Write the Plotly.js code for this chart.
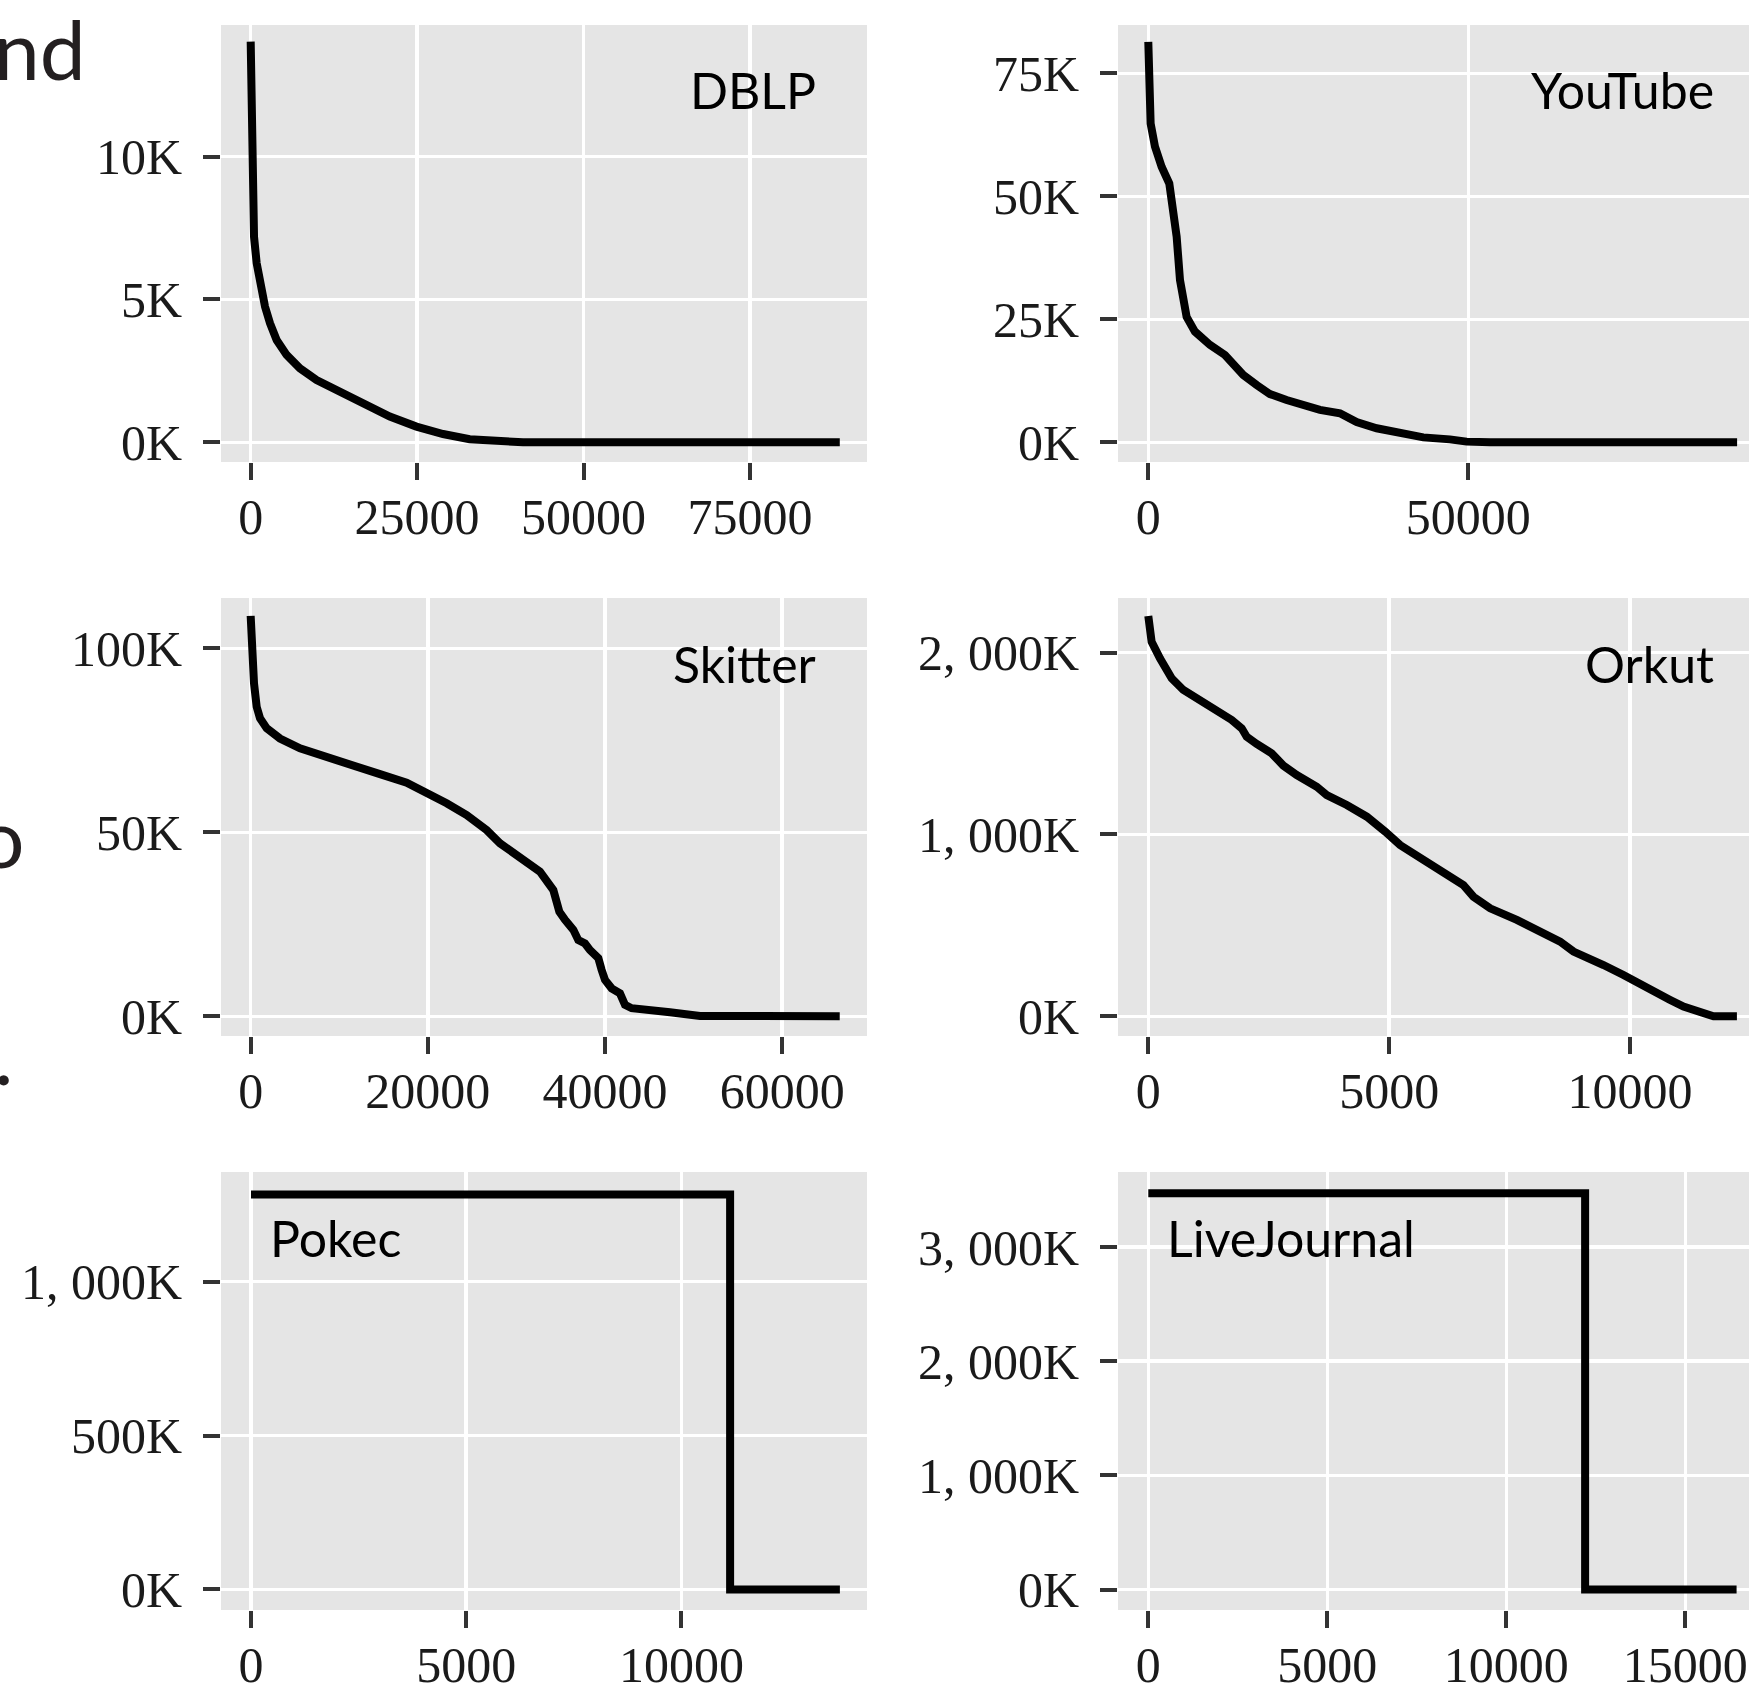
<!DOCTYPE html>
<html>
<head>
<meta charset="utf-8">
<script src="https://cdn.plot.ly/plotly-3.0.1.min.js"></script>
<style>
  html, body { margin: 0; padding: 0; background: #ffffff; }
  #chart { width: 1749px; height: 1687px; }
</style>
</head>
<body>
<div id="chart"></div>
<script>
// ---------- data ----------
const panelNames = ["DBLP", "YouTube", "Skitter", "Orkut", "Pokec", "LiveJournal"];

const dblpX = [0, 150, 300, 500, 900, 1400, 2150, 2900, 3900, 5400, 7400, 9900, 13400, 17400, 20900, 24900, 28900, 32900, 36900, 40900, 60000, 88500];
const dblpY = [14030, 9770, 8370, 7200, 6270, 5570, 4750, 4170, 3580, 3060, 2590, 2180, 1770, 1310, 900, 550, 290, 105, 25, 0, 0, 0];

const youtubeX = [0, 156, 365, 1040, 2080, 3280, 3900, 4430, 4950, 5360, 5990, 7290, 9635, 11980, 12760, 14840, 16930, 19010, 21610, 24220, 26820, 29950, 30990, 32550, 35680, 38800, 42970, 47130, 49740, 53400, 92000];
const youtubeY = [81400, 68200, 64800, 60100, 56000, 52600, 47900, 41800, 33000, 29600, 25500, 22500, 19800, 17750, 16700, 13700, 11650, 9800, 8600, 7400, 6600, 5900, 5200, 4100, 2850, 1960, 1000, 600, 140, 0, 0];

const skitterX = [0, 113, 376, 677, 1054, 1806, 3311, 5569, 8203, 11214, 14600, 17611, 19870, 22127, 24384, 26640, 28150, 29650, 31160, 32660, 34170, 34850, 35490, 36430, 36990, 37740, 38310, 39250, 39620, 40000, 40750, 41690, 42260, 43010, 47340, 50730, 66500];
const skitterY = [108800, 95900, 90500, 84100, 81000, 78300, 75500, 72800, 70600, 68300, 65800, 63500, 60800, 57900, 54700, 50600, 47000, 44300, 42000, 39300, 34300, 28400, 26200, 23500, 20700, 19800, 18000, 15800, 12600, 9900, 7600, 6250, 3100, 2200, 1100, 100, 0];

const orkutX = [0, 69, 242, 485, 727, 1004, 1281, 1489, 1731, 1939, 2043, 2251, 2562, 2804, 3082, 3497, 3705, 4120, 4536, 4917, 5228, 5713, 6059, 6127, 6542, 6750, 7097, 7651, 8135, 8550, 8827, 9173, 9450, 9865, 10280, 10835, 11111, 11526, 11734, 12220];
const orkutY = [2202000, 2060000, 1969000, 1859000, 1795000, 1749000, 1707000, 1666000, 1630000, 1584000, 1538000, 1498000, 1446000, 1379000, 1327000, 1263000, 1217000, 1162000, 1098000, 1016000, 942000, 860000, 805000, 786000, 722000, 658000, 594000, 530000, 466000, 411000, 356000, 319000, 282000, 227000, 163000, 90000, 53000, 20000, 0, 0];

const pokecX = [0, 11130, 11130, 13680];
const pokecY = [1283000, 1283000, 0, 0];

const liveJournalX = [0, 12200, 12200, 16430];
const liveJournalY = [3472000, 3472000, 0, 0];

// tick values and labels
const dblpXTicks = [0, 25000, 50000, 75000];
const dblpXLabels = ["0", "25000", "50000", "75000"];
const dblpYTicks = [0, 5000, 10000];
const dblpYLabels = ["0K", "5K", "10K"];

const youtubeXTicks = [0, 50000];
const youtubeXLabels = ["0", "50000"];
const youtubeYTicks = [0, 25000, 50000, 75000];
const youtubeYLabels = ["0K", "25K", "50K", "75K"];

const skitterXTicks = [0, 20000, 40000, 60000];
const skitterXLabels = ["0", "20000", "40000", "60000"];
const skitterYTicks = [0, 50000, 100000];
const skitterYLabels = ["0K", "50K", "100K"];

const orkutXTicks = [0, 5000, 10000];
const orkutXLabels = ["0", "5000", "10000"];
const orkutYTicks = [0, 1000000, 2000000];
const orkutYLabels = ["0K", "1, 000K", "2, 000K"];

const pokecXTicks = [0, 5000, 10000];
const pokecXLabels = ["0", "5000", "10000"];
const pokecYTicks = [0, 500000, 1000000];
const pokecYLabels = ["0K", "500K", "1, 000K"];

const liveJournalXTicks = [0, 5000, 10000, 15000];
const liveJournalXLabels = ["0", "5000", "10000", "15000"];
const liveJournalYTicks = [0, 1000000, 2000000, 3000000];
const liveJournalYLabels = ["0K", "1, 000K", "2, 000K", "3, 000K"];

// ---------- layout helpers ----------
const W = 1749, H = 1687;
const dx = (a, b) => [a / W, b / W];
const dy = (top, bottom) => [1 - bottom / H, 1 - top / H];
const px = v => v / W;
const py = v => 1 - v / H;

const colL = dx(221, 867), colR = dx(1118, 1749);
const row1 = dy(25, 462), row2 = dy(598, 1036), row3 = dy(1172, 1610);

const tickFont = { family: "Liberation Serif, Times New Roman, serif", size: 50, color: "#1a1a1a" };
const labelFont = { family: "Lato, Open Sans, sans-serif", size: 50, color: "#000000" };

function axis(domain, anchor, range, vals, texts, isY) {
  return {
    domain: domain, anchor: anchor, range: range,
    tickmode: "array", tickvals: vals, ticktext: texts,
    showgrid: true, gridcolor: "#FFFFFF", gridwidth: 3.5,
    zeroline: false, showline: false,
    ticks: "outside", ticklen: 17, tickwidth: 4, tickcolor: "#333333",
    tickfont: tickFont, ticklabelstandoff: isY ? 11 : -6,
    automargin: false, fixedrange: true
  };
}

const line = { color: "#000000", width: 8 };
const series = [
  [dblpX, dblpY], [youtubeX, youtubeY], [skitterX, skitterY],
  [orkutX, orkutY], [pokecX, pokecY], [liveJournalX, liveJournalY]
];
const traces = series.map((s, i) => ({
  type: "scatter", mode: "lines", x: s[0], y: s[1],
  xaxis: i === 0 ? "x" : "x" + (i + 1),
  yaxis: i === 0 ? "y" : "y" + (i + 1),
  line: line, hoverinfo: "skip", showlegend: false
}));

const layout = {
  width: W, height: H,
  margin: { l: 0, r: 0, t: 0, b: 0, pad: 0 },
  paper_bgcolor: "#FFFFFF", plot_bgcolor: "#E5E5E5",
  showlegend: false,
  xaxis:  axis(colL, "y",  [-4460, 92590], dblpXTicks, dblpXLabels, false),
  yaxis:  axis(row1, "x",  [-690, 14610], dblpYTicks, dblpYLabels, true),
  xaxis2: axis(colR, "y2", [-4734, 93860], youtubeXTicks, youtubeXLabels, false),
  yaxis2: axis(row1, "x2", [-4000, 84810], youtubeYTicks, youtubeYLabels, true),
  xaxis3: axis(colL, "y3", [-3350, 69580], skitterXTicks, skitterXLabels, false),
  yaxis3: axis(row2, "x3", [-5350, 113670], skitterYTicks, skitterYLabels, true),
  xaxis4: axis(colR, "y4", [-629, 12471], orkutXTicks, orkutXLabels, false),
  yaxis4: axis(row2, "x4", [-108400, 2300800], orkutYTicks, orkutYLabels, true),
  xaxis5: axis(colL, "y5", [-697, 14310], pokecXTicks, pokecXLabels, false),
  yaxis5: axis(row3, "x5", [-66600, 1356000], pokecYTicks, pokecYLabels, true),
  xaxis6: axis(colR, "y6", [-846, 16777], liveJournalXTicks, liveJournalXLabels, false),
  yaxis6: axis(row3, "x6", [-179600, 3658000], liveJournalYTicks, liveJournalYLabels, true),
  annotations: [
    { text: panelNames[0], xref: "paper", yref: "paper", x: px(818), y: py(90), xanchor: "right", yanchor: "middle", showarrow: false, font: labelFont },
    { text: panelNames[1], xref: "paper", yref: "paper", x: px(1716), y: py(90), xanchor: "right", yanchor: "middle", showarrow: false, font: labelFont },
    { text: panelNames[2], xref: "paper", yref: "paper", x: px(818), y: py(664), xanchor: "right", yanchor: "middle", showarrow: false, font: labelFont },
    { text: panelNames[3], xref: "paper", yref: "paper", x: px(1716), y: py(664), xanchor: "right", yanchor: "middle", showarrow: false, font: labelFont },
    { text: panelNames[4], xref: "paper", yref: "paper", x: px(268), y: py(1238), xanchor: "left", yanchor: "middle", showarrow: false, font: labelFont },
    { text: panelNames[5], xref: "paper", yref: "paper", x: px(1165), y: py(1238), xanchor: "left", yanchor: "middle", showarrow: false, font: labelFont },
    // fragments of surrounding text cut off at the left edge
    { text: "nd", xref: "paper", yref: "paper", x: px(88), y: py(48), xanchor: "right", yanchor: "middle", showarrow: false, font: { family: "Lato, sans-serif", size: 82, color: "#231f20" } },
    { text: "o", xref: "paper", yref: "paper", x: px(27), y: py(836), xanchor: "right", yanchor: "middle", showarrow: false, font: { family: "Lato, sans-serif", size: 82, color: "#231f20" } },
    { text: ".", xref: "paper", yref: "paper", x: px(15), y: py(1053), xanchor: "right", yanchor: "middle", showarrow: false, font: { family: "Lato, sans-serif", size: 82, color: "#231f20" } }
  ]
};

Plotly.newPlot("chart", traces, layout, { displayModeBar: false, staticPlot: true });
</script>
</body>
</html>
